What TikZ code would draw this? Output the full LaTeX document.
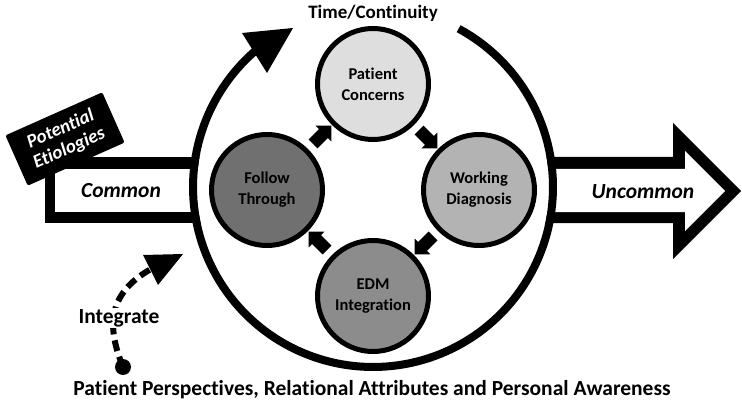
\documentclass[tikz,border=0pt]{standalone}
\usepackage{fontspec}
\setmainfont[Ligatures=NoCommon]{Carlito}
\usetikzlibrary{shapes.arrows}
\definecolor{cpc}{HTML}{DEDEDE}
\definecolor{cwd}{HTML}{B3B3B3}
\definecolor{cedm}{HTML}{8C8C8C}
\definecolor{cft}{HTML}{707070}
\tikzset{
  inner/.style={circle, draw=black, line width=5pt, minimum size=111pt, inner sep=0pt,
    align=center, font=\bfseries\fontsize{16.5}{21}\selectfont},
  smallarrow/.style={single arrow, fill=black, inner sep=6pt, minimum height=26pt,
    single arrow head extend=5pt},
  lbl/.style={font=\bfseries\fontsize{21.5}{24}\selectfont},
  ilbl/.style={font=\bfseries\itshape\fontsize{21.5}{24}\selectfont}
}
\begin{document}
\begin{tikzpicture}[x=1pt,y=-1pt]
\path[use as bounding box] (0,0) rectangle (742,409);
% horizontal arrows
\fill[black] (45,157) rectangle (300,223);
\fill[white] (55,169) rectangle (300,212);
\fill[black] (450,157) -- (673,157) -- (673,123) -- (741,191) -- (673,259) -- (673,223) -- (450,223) -- cycle;
\fill[white] (450,169) -- (685,169) -- (685,151) -- (725,191) -- (685,231) -- (685,212) -- (450,212) -- cycle;
% big circle interior
\node[circle, fill=white, minimum size=352pt, inner sep=0pt] (big) at (373,187) {};
% big arc
\draw[line width=8pt] plot[domain=-61.6:231, samples=150] ({373+180*cos(\x)},{187+180*sin(\x)});
\fill[black] (242,33) -- (293,28) -- (267,73) -- cycle;
% labels on arrows
\node[ilbl] (common) at (121,191) {Common};
\node[ilbl] (uncommon) at (643,192) {Uncommon};
% etiologies box
\node[fill=black, rounded corners=2pt, rotate=24, minimum width=106pt, minimum height=55pt,
  text=white, align=center, inner sep=2pt, font=\bfseries\itshape\fontsize{19}{21}\selectfont]
  (etio) at (65,139) {Potential\\Etiologies};
% inner circles
\node[inner, fill=cpc] (pc) at (373,84) {Patient\\Concerns};
\node[inner, fill=cwd] (wd) at (479,190) {Working\\Diagnosis};
\node[inner, fill=cedm] (edm) at (373,296) {EDM\\Integration};
\node[inner, fill=cft] (ft) at (267,190) {Follow\\Through};
% small arrows
\node[smallarrow, rotate=-45] (a1) at (426,137) {};
\node[smallarrow, rotate=-135] (a2) at (426,243) {};
\node[smallarrow, rotate=135] (a3) at (320,243) {};
\node[smallarrow, rotate=45] (a4) at (320,137) {};
% titles
\node[lbl, font=\bfseries\fontsize{19}{22}\selectfont] (time) at (373,13) {Time/Continuity};
\node[lbl] (bottom) at (372,390) {Patient Perspectives, Relational Attributes and Personal Awareness};
% integrate dashed arrow
\node[circle, fill=black, minimum size=16pt, inner sep=0pt] (dot) at (123,367) {};
\coordinate (iend) at (151,269);
\draw[line width=6pt, dash pattern=on 11pt off 6pt] (dot.center) .. controls (108,330) and (105,295) .. (iend);
\fill[black] (143,255) -- (183,254) -- (158,285) -- cycle;
\node[lbl, fill=white, inner sep=1pt] (integ) at (119,318) {Integrate};
\end{tikzpicture}
\end{document}
